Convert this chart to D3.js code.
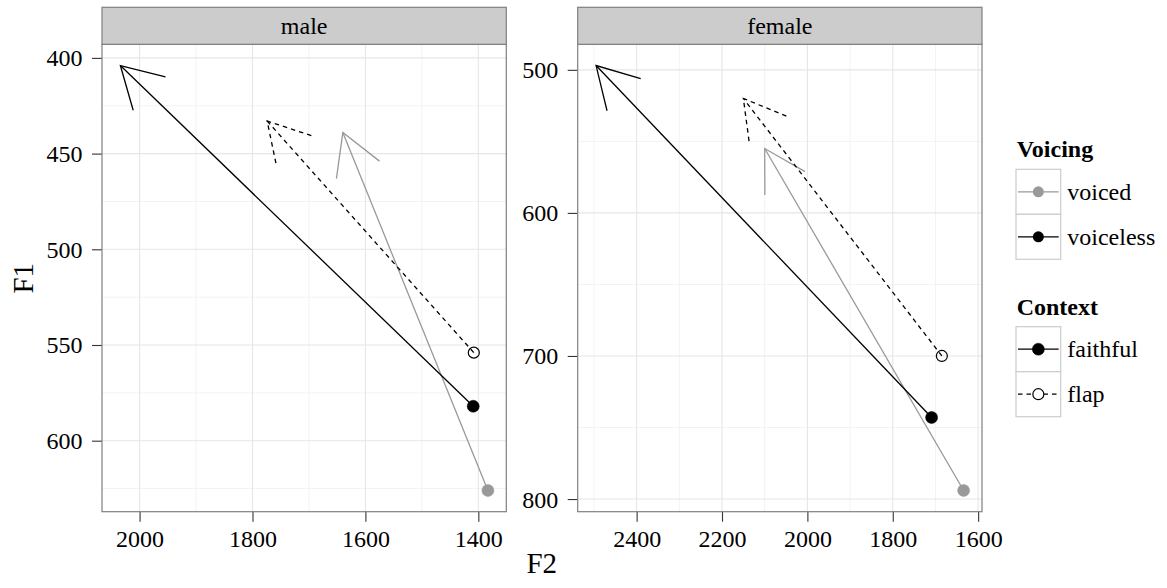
<!DOCTYPE html>
<html>
<head>
<meta charset="utf-8">
<script src="https://cdn.jsdelivr.net/npm/d3@7"></script>
<style>
  html, body { margin: 0; padding: 0; background: #fff; }
  svg { display: block; }
  svg text { font-family: "Liberation Serif", "Times New Roman", serif !important; }
</style>
</head>
<body>
<svg id="chart" width="1167" height="588"></svg>
<script>
// ---- data ----
const panelNames = ["male", "female"];
const arrowPanel   = ["male", "male", "male", "female", "female", "female"];
const arrowVoicing = ["voiced", "voiceless", "voiceless", "voiced", "voiceless", "voiceless"];
const arrowContext = ["faithful", "faithful", "flap", "faithful", "faithful", "flap"];
const f2From = [1383, 1409, 1408, 1634, 1709, 1685];
const f1From = [626, 582, 554, 794, 743, 700];
const f2To   = [1640, 2034, 1774, 2100, 2495, 2150];
const f1To   = [439, 404, 433, 555, 497, 520];
const maleF2Ticks   = [2000, 1800, 1600, 1400];
const maleF1Ticks   = [400, 450, 500, 550, 600];
const femaleF2Ticks = [2400, 2200, 2000, 1800, 1600];
const femaleF1Ticks = [500, 600, 700, 800];
const voicingLevels = ["voiced", "voiceless"];
const contextLevels = ["faithful", "flap"];

// ---- style ----
const voicingColor = d3.scaleOrdinal().domain(voicingLevels).range(["#999999", "#000000"]);
const contextDash = d3.scaleOrdinal().domain(contextLevels).range([null, "4.5,4"]);
const contextFilled = d3.scaleOrdinal().domain(contextLevels).range([true, false]);

const svg = d3.select("#chart");
const panelLeft = [102, 577.7];
const panelW = 404.3;
const panelTop = 44.3, panelBottom = 511.7, stripTop = 7.3;
const headLen = 46.5, headAngle = Math.PI / 6;

const ticksX = { male: maleF2Ticks, female: femaleF2Ticks };
const ticksY = { male: maleF1Ticks, female: femaleF1Ticks };

function expand(vals) {
  const lo = d3.min(vals), hi = d3.max(vals), pad = (hi - lo) * 0.05;
  return [lo - pad, hi + pad];
}
function minorOf(major, dom) {
  const step = major[1] - major[0];
  const res = [];
  const all = [major[0] - step].concat(major);
  all.forEach(v => res.push(v + step / 2));
  const lo = Math.min(dom[0], dom[1]), hi = Math.max(dom[0], dom[1]);
  return res.filter(v => v >= lo && v <= hi);
}

const idx = d3.range(f2From.length);

panelNames.forEach((pn, pi) => {
  const ids = idx.filter(i => arrowPanel[i] === pn);
  const xd = expand(ids.map(i => f2From[i]).concat(ids.map(i => f2To[i])));
  const yd = expand(ids.map(i => f1From[i]).concat(ids.map(i => f1To[i])));
  const x0 = panelLeft[pi], x1 = x0 + panelW;
  const x = d3.scaleLinear().domain([xd[1], xd[0]]).range([x0, x1]);
  const y = d3.scaleLinear().domain([yd[0], yd[1]]).range([panelTop, panelBottom]);
  const g = svg.append("g");

  g.append("rect").attr("x", x0).attr("y", panelTop).attr("width", panelW)
    .attr("height", panelBottom - panelTop).attr("fill", "#fff");

  // minor grid
  const mx = minorOf(ticksX[pn], x.domain()), my = minorOf(ticksY[pn], y.domain());
  g.selectAll(".mgx").data(mx).enter().append("line")
    .attr("x1", d => x(d)).attr("x2", d => x(d)).attr("y1", panelTop).attr("y2", panelBottom)
    .attr("stroke", "#f3f3f3").attr("stroke-width", 1);
  g.selectAll(".mgy").data(my).enter().append("line")
    .attr("y1", d => y(d)).attr("y2", d => y(d)).attr("x1", x0).attr("x2", x1)
    .attr("stroke", "#f3f3f3").attr("stroke-width", 1);
  // major grid
  g.selectAll(".gx").data(ticksX[pn]).enter().append("line")
    .attr("x1", d => x(d)).attr("x2", d => x(d)).attr("y1", panelTop).attr("y2", panelBottom)
    .attr("stroke", "#e6e6e6").attr("stroke-width", 1.1);
  g.selectAll(".gy").data(ticksY[pn]).enter().append("line")
    .attr("y1", d => y(d)).attr("y2", d => y(d)).attr("x1", x0).attr("x2", x1)
    .attr("stroke", "#e6e6e6").attr("stroke-width", 1.1);

  // axes
  const ax = g.append("g").attr("transform", `translate(0,${panelBottom})`)
    .call(d3.axisBottom(x).tickValues(ticksX[pn]).tickSize(10).tickPadding(0).tickFormat(d3.format("d")));
  ax.attr("font-family", null);
  ax.select(".domain").remove();
  ax.selectAll(".tick line").attr("stroke", "#333").attr("stroke-width", 1.1);
  ax.selectAll(".tick text").attr("y", 35).attr("dy", null)
    .attr("font-size", 24).attr("fill", "#000");

  const ay = g.append("g").attr("transform", `translate(${x0},0)`)
    .call(d3.axisLeft(y).tickValues(ticksY[pn]).tickSize(10).tickPadding(0).tickFormat(d3.format("d")));
  ay.attr("font-family", null);
  ay.select(".domain").remove();
  ay.selectAll(".tick line").attr("stroke", "#333").attr("stroke-width", 1.1);
  ay.selectAll(".tick text").attr("x", -19.5).attr("dy", null).attr("y", 8)
    .attr("font-size", 24).attr("fill", "#000");

  // arrows
  const arr = g.append("g");
  ids.forEach(i => {
    const sx = x(f2From[i]), sy = y(f1From[i]), tx = x(f2To[i]), ty = y(f1To[i]);
    const col = voicingColor(arrowVoicing[i]);
    const dash = contextDash(arrowContext[i]);
    const ang = Math.atan2(sy - ty, sx - tx);
    const p1 = [tx + headLen * Math.cos(ang - headAngle), ty + headLen * Math.sin(ang - headAngle)];
    const p2 = [tx + headLen * Math.cos(ang + headAngle), ty + headLen * Math.sin(ang + headAngle)];
    const common = s => s.attr("fill", "none").attr("stroke", col).attr("stroke-width", 1.3)
      .attr("stroke-dasharray", dash);
    arr.append("line").attr("x1", sx).attr("y1", sy).attr("x2", tx).attr("y2", ty).call(common);
    arr.append("path").attr("d", d3.line()([p1, [tx, ty], p2])).call(common);
  });
  // points
  ids.forEach(i => {
    const col = voicingColor(arrowVoicing[i]);
    const filled = contextFilled(arrowContext[i]);
    g.append("circle").attr("cx", x(f2From[i])).attr("cy", y(f1From[i]))
      .attr("r", filled ? 6 : 5.5)
      .attr("fill", filled ? col : "none")
      .attr("stroke", col).attr("stroke-width", filled ? 0.5 : 1.2);
  });

  // border
  g.append("rect").attr("x", x0).attr("y", panelTop).attr("width", panelW)
    .attr("height", panelBottom - panelTop).attr("fill", "none").attr("stroke", "#7f7f7f").attr("stroke-width", 1.2);
  // strip
  g.append("rect").attr("x", x0).attr("y", stripTop).attr("width", panelW)
    .attr("height", panelTop - stripTop).attr("fill", "#cccccc").attr("stroke", "#7f7f7f").attr("stroke-width", 1.2);
  g.append("text").attr("x", (x0 + x1) / 2).attr("y", 34.3).attr("text-anchor", "middle")
    .attr("font-size", 24).text(pn);
});

// axis titles
svg.append("text").attr("transform", "translate(32.7,278.3) rotate(-90)")
  .attr("text-anchor", "middle").attr("font-size", 29).text("F1");
svg.append("text").attr("x", 541.7).attr("y", 573.3)
  .attr("text-anchor", "middle").attr("font-size", 29).text("F2");

// legends
const keyX = 1016, keyW = 44.7, keyH = 45;
function legend(title, titleY, keyTop, levels, drawKey) {
  const lg = svg.append("g");
  lg.append("text").attr("x", 1016.7).attr("y", titleY).attr("font-size", 24)
    .attr("font-weight", "bold").text(title);
  levels.forEach((lv, k) => {
    const ty = keyTop + k * keyH;
    lg.append("rect").attr("x", keyX).attr("y", ty).attr("width", keyW).attr("height", keyH)
      .attr("fill", "#fff").attr("stroke", "#cccccc").attr("stroke-width", 1.2);
    drawKey(lg, lv, keyX, ty + keyH / 2);
    lg.append("text").attr("x", 1067.3).attr("y", ty + keyH / 2 + 8).attr("font-size", 24).text(lv);
  });
}
legend("Voicing", 156.7, 169.3, voicingLevels, (lg, lv, kx, cy) => {
  const col = voicingColor(lv);
  lg.append("line").attr("x1", kx + 2).attr("x2", kx + keyW - 2).attr("y1", cy).attr("y2", cy)
    .attr("stroke", col).attr("stroke-width", 1.3);
  lg.append("circle").attr("cx", kx + keyW / 2).attr("cy", cy).attr("r", 5.5).attr("fill", col);
});
legend("Context", 315, 326.7, contextLevels, (lg, lv, kx, cy) => {
  const filled = contextFilled(lv);
  lg.append("line").attr("x1", kx + 2).attr("x2", kx + keyW - 2).attr("y1", cy).attr("y2", cy)
    .attr("stroke", "#000").attr("stroke-width", 1.3).attr("stroke-dasharray", contextDash(lv));
  lg.append("circle").attr("cx", kx + keyW / 2).attr("cy", cy).attr("r", filled ? 6 : 5.5)
    .attr("fill", filled ? "#000" : "#fff").attr("stroke", "#000").attr("stroke-width", filled ? 0.5 : 1.2);
});
</script>
</body>
</html>
